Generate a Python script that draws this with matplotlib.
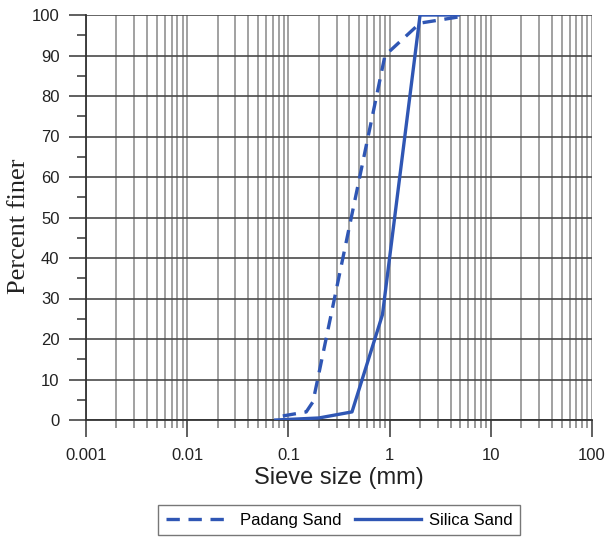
import numpy as np
import matplotlib
matplotlib.use("Agg")
import matplotlib.pyplot as plt
from matplotlib.ticker import LogLocator, FixedLocator, NullFormatter

# Curvas granulométricas
padang_size = [0.088, 0.15, 0.175, 0.9, 2.0, 4.75]
padang_finer = [1.0, 2.0, 4.5, 90.0, 98.0, 99.5]

silica_size = [0.075, 0.2, 0.425, 0.85, 2.0, 4.75]
silica_finer = [0.0, 0.5, 2.0, 26.0, 100.0, 100.0]

x_ticks = [0.001, 0.01, 0.1, 1, 10, 100]
x_labels = ["0.001", "0.01", "0.1", "1", "10", "100"]
y_ticks = list(range(0, 101, 10))

azul = "#2f56b4"

fig = plt.figure(figsize=(6.07, 5.40), dpi=100)
ax = fig.add_axes([86 / 607, 1 - 420 / 540, (592 - 86) / 607, (420 - 15) / 540])

ax.set_xscale("log")
ax.set_xlim(0.001, 100)
ax.set_ylim(0, 100)

# Cuadrícula: verticales grises en todas las subdivisiones, horizontales oscuras cada 10
ax.xaxis.set_major_locator(FixedLocator(x_ticks))
ax.xaxis.set_minor_locator(LogLocator(base=10, subs=np.arange(2, 10)))
ax.xaxis.set_minor_formatter(NullFormatter())
ax.set_xticklabels(x_labels)
ax.yaxis.set_major_locator(FixedLocator(y_ticks))
ax.yaxis.set_minor_locator(FixedLocator(list(range(5, 100, 10))))

ax.grid(True, axis="x", which="both", color="#9a9a9a", linewidth=1.3)
ax.grid(True, axis="y", which="major", color="#4a4a4a", linewidth=1.2)
ax.set_axisbelow(True)

ax.plot(padang_size, padang_finer, color=azul, linewidth=2.4,
        linestyle=(0, (4, 2.6)), label="Padang Sand", zorder=3)
ax.plot(silica_size, silica_finer, color=azul, linewidth=2.4,
        linestyle="-", label="Silica Sand", zorder=3)

for lado in ["top", "right"]:
    ax.spines[lado].set_visible(False)
for lado in ["left", "bottom"]:
    ax.spines[lado].set_color("#333333")
    ax.spines[lado].set_linewidth(1.3)

ax.tick_params(axis="x", which="major", direction="out", length=12.5, width=1.2,
               color="#444444", pad=7.5, labelsize=12)
ax.tick_params(axis="x", which="minor", direction="out", length=6, width=1.2,
               color="#888888")
ax.tick_params(axis="y", which="major", direction="out", length=12.5, width=1.2,
               color="#444444", pad=6.5, labelsize=12)
ax.tick_params(axis="y", which="minor", direction="out", length=6.5, width=1.2,
               color="#444444")
for lbl in ax.get_xticklabels() + ax.get_yticklabels():
    lbl.set_family("Liberation Sans")
    lbl.set_color("#222222")

ax.set_xlabel("Sieve size (mm)", family="Liberation Sans", fontsize=17,
              color="#222222", labelpad=3)
ax.set_ylabel("Percent finer", family="Liberation Serif", fontsize=19,
              color="#222222")
ax.yaxis.set_label_coords(-0.111, 0.478)

leg = ax.legend(loc="upper center", bbox_to_anchor=(0.5, -0.19), ncol=2,
                frameon=True, fancybox=False, edgecolor="#555555",
                prop={"family": "Liberation Sans", "size": 12},
                handlelength=4.0, handletextpad=0.45, columnspacing=0.8,
                borderpad=0.45)
leg.get_frame().set_linewidth(1.0)

fig.savefig("out.png", dpi=100)
